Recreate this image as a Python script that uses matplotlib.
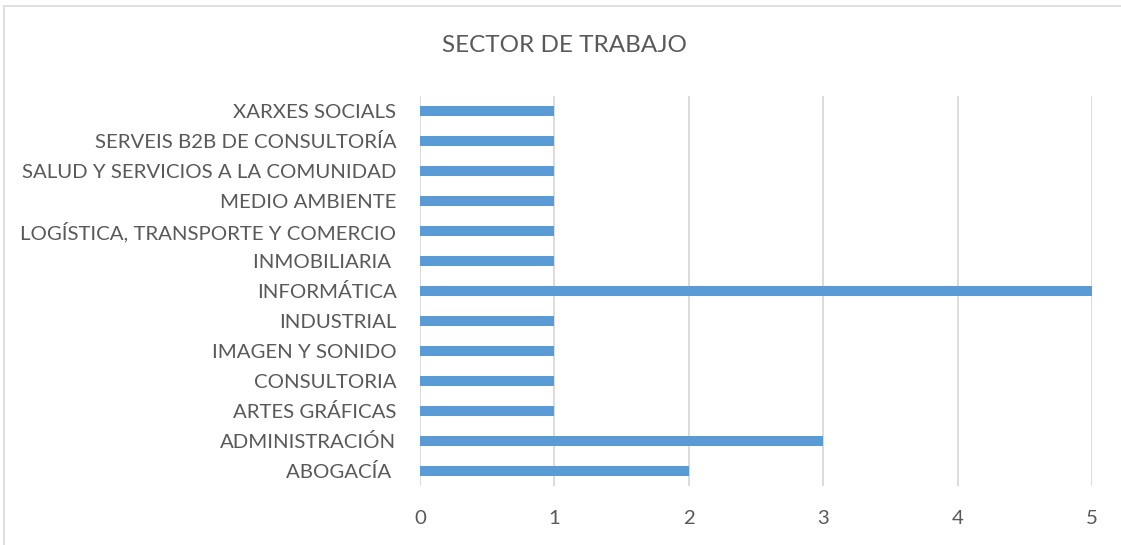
import matplotlib
matplotlib.use("Agg")
import matplotlib.pyplot as plt
from matplotlib.lines import Line2D

categories = ["ABOGACÍA ", "ADMINISTRACIÓN", "ARTES GRÁFICAS", "CONSULTORIA",
              "IMAGEN Y SONIDO", "INDUSTRIAL", "INFORMÁTICA", "INMOBILIARIA ",
              "LOGÍSTICA, TRANSPORTE Y COMERCIO", "MEDIO AMBIENTE",
              "SALUD Y SERVICIOS A LA COMUNIDAD", "SERVEIS B2B DE CONSULTORÍA",
              "XARXES SOCIALS"]
values = [2, 3, 1, 1, 1, 1, 5, 1, 1, 1, 1, 1, 1]
xticks = [0, 1, 2, 3, 4, 5]
title = "SECTOR DE TRABAJO"

plt.rcParams['font.family'] = ['Lato', 'DejaVu Sans']
W, H = 1121, 545
fig = plt.figure(figsize=(W / 100, H / 100), dpi=100)
ax = fig.add_axes([420 / W, 1 - 486 / H, (1092 - 420) / W, (486 - 96) / H])

ys = list(range(len(categories)))
ax.barh(ys, values, height=0.34, color="#5B9BD5", zorder=3)
ax.set_ylim(-0.5, len(categories) - 0.5)
ax.set_xlim(0, 5)
ax.set_xticks(xticks)
ax.set_yticks(ys)
ax.set_yticklabels(categories)
ax.xaxis.grid(True, color="#D9D9D9", linewidth=1.3, zorder=0)
for s in ax.spines.values():
    s.set_visible(False)
ax.tick_params(axis='both', length=0, colors="#595959", labelsize=14.7)
ax.tick_params(axis='x', pad=17)
ax.tick_params(axis='y', pad=17)

fig.text(564 / W, 1 - 46 / H, title, ha="center", va="center", fontsize=17.5, color="#595959")

fig.add_artist(Line2D([4 / W, 4 / W], [0, 1 - 6 / H], color="#D9D9D9", linewidth=1.2, transform=fig.transFigure))
fig.add_artist(Line2D([4 / W, 1], [1 - 6 / H, 1 - 6 / H], color="#D9D9D9", linewidth=1.2, transform=fig.transFigure))

fig.savefig("out.png", dpi=100, facecolor="white")
